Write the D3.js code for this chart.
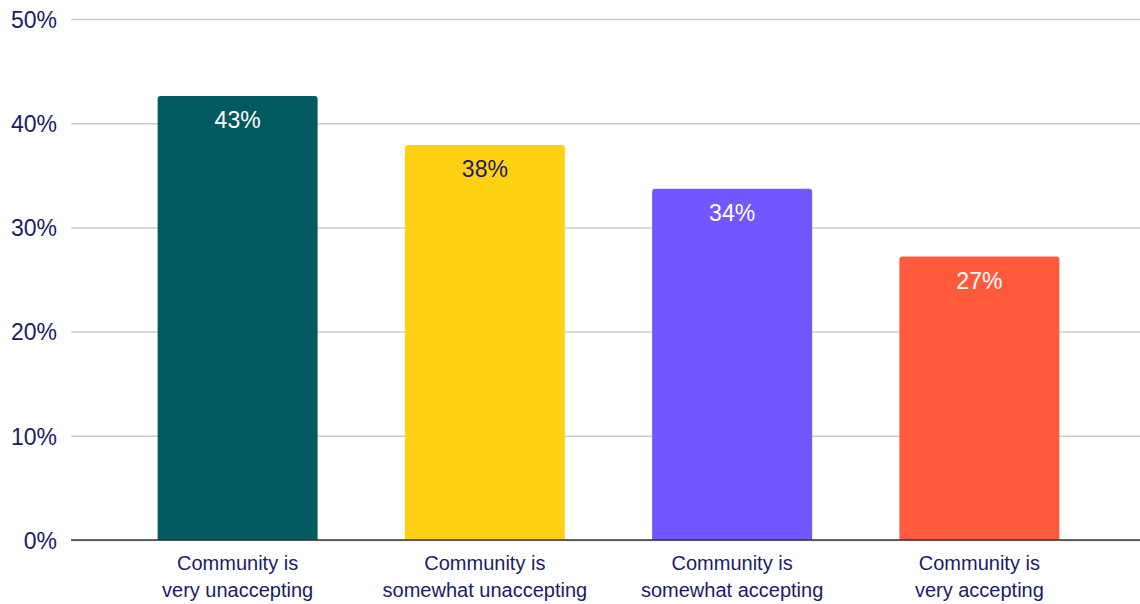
<!DOCTYPE html>
<html>
<head>
<meta charset="utf-8">
<script src="https://d3js.org/d3.v7.min.js"></script>
<style>
  body { margin: 0; background: #fff; }
  text { font-family: "Liberation Sans", Arial, sans-serif; }
</style>
</head>
<body>
<svg id="chart" width="1140" height="604"></svg>
<script>
// data
const categories = [
  ["Community is", "very unaccepting"],
  ["Community is", "somewhat unaccepting"],
  ["Community is", "somewhat accepting"],
  ["Community is", "very accepting"]
];
const values = [42.6, 37.9, 33.7, 27.2];
const labels = ["43%", "38%", "34%", "27%"];
const barColors = ["#025a60", "#fed212", "#7157ff", "#ff5a3c"];
const labelColors = ["#ffffff", "#1c1b66", "#ffffff", "#ffffff"];
const yTicks = [0, 10, 20, 30, 40, 50];

const svg = d3.select("#chart");
const navy = "#1c1b66";

let y = d3.scaleLinear().domain([0, 50]).range([540, 19]);
let x = d3.scaleBand()
  .domain(d3.range(categories.length))
  .range([114, 1103])
  .paddingInner(0.353)
  .paddingOuter(0.1765);

// gridlines + tick labels
let yAxis = svg.append("g")
  .attr("transform", "translate(71,0)")
  .call(d3.axisLeft(y).tickValues(yTicks).tickSize(-1069).tickFormat(d => d + "%").tickPadding(14));
yAxis.select(".domain").remove();
yAxis.selectAll(".tick line").attr("stroke", "#cccccc").attr("stroke-width", 1.5);
yAxis.selectAll(".tick text")
  .attr("fill", navy)
  .attr("font-size", 23)
  .attr("dy", "0.36em");

// bars with rounded tops
function barPath(x0, y0, w, h, r) {
  return `M${x0},${y0 + h} V${y0 + r} Q${x0},${y0} ${x0 + r},${y0} H${x0 + w - r} Q${x0 + w},${y0} ${x0 + w},${y0 + r} V${y0 + h} Z`;
}
svg.append("g").selectAll("path")
  .data(values)
  .enter().append("path")
  .attr("d", (d, i) => barPath(x(i), y(d), x.bandwidth(), y(0) - y(d), 3))
  .attr("fill", (d, i) => barColors[i]);

// baseline
svg.append("line")
  .attr("x1", 71).attr("x2", 1140)
  .attr("y1", y(0)).attr("y2", y(0))
  .attr("stroke", "#333333").attr("stroke-width", 1.5);

// value labels
svg.append("g").selectAll("text")
  .data(values)
  .enter().append("text")
  .attr("x", (d, i) => x(i) + x.bandwidth() / 2)
  .attr("y", d => y(d) + 32)
  .attr("text-anchor", "middle")
  .attr("font-size", 23)
  .attr("fill", (d, i) => labelColors[i])
  .text((d, i) => labels[i]);

// category labels
let cat = svg.append("g").selectAll("text")
  .data(categories)
  .enter().append("text")
  .attr("text-anchor", "middle")
  .attr("font-size", 20)
  .attr("fill", navy);
cat.each(function(d, i) {
  d3.select(this).selectAll("tspan")
    .data(d)
    .enter().append("tspan")
    .attr("x", x(i) + x.bandwidth() / 2)
    .attr("y", (t, j) => 570 + j * 27)
    .text(t => t);
});
</script>
</body>
</html>
